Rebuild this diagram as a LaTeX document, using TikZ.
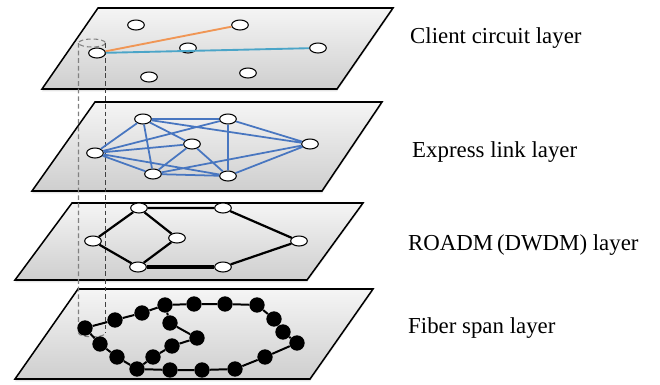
\documentclass[tikz,border=0pt]{standalone}
\usepackage{fontspec}
\setmainfont{Liberation Serif}
\usetikzlibrary{shapes.geometric}
\definecolor{Orange}{RGB}{240,150,85}
\definecolor{Cyan}{RGB}{75,165,200}
\definecolor{Steel}{RGB}{72,118,192}

\begin{document}
\begin{tikzpicture}[
  x=0.03cm, y=-0.03cm,
  plane/.style={draw=black, line width=1.3pt, top color=gray!8, bottom color=gray!38},
  shade/.style={fill=black!10, draw=none},
  site/.style={ellipse, draw=black, fill=white, line width=0.9pt, minimum width=0.5cm, minimum height=0.3cm, inner sep=0pt},
  span/.style={circle, fill=black, minimum size=0.46cm, inner sep=0pt},
  circuit/.style={line width=1.6pt},
  express/.style={Steel, line width=1.5pt},
  roadm/.style={black, line width=1.9pt},
  fiber/.style={black, line width=1.7pt},
  tube/.style={dash pattern=on 4pt off 2.5pt, line width=0.9pt},
  layername/.style={anchor=west, inner sep=0pt, font=\fontsize{19.5}{22}\selectfont}
]
  \useasboundingbox (0,0) rectangle (660,384);

  % layer planes, top to bottom
  \fill[shade, yshift=-2pt] (98,8) -- (393,8) -- (337,89) -- (42,89) -- cycle;
  \fill[shade, yshift=-2pt] (95,102) -- (382,102) -- (322,191) -- (32,191) -- cycle;
  \fill[shade, yshift=-2pt] (72,203) -- (363,203) -- (307,280) -- (15,280) -- cycle;
  \fill[shade, yshift=-2pt] (78,289) -- (373,289) -- (310,379) -- (15,379) -- cycle;
  \draw[plane] (98,8) -- (393,8) -- (337,89) -- (42,89) -- cycle;
  \draw[plane] (95,102) -- (382,102) -- (322,191) -- (32,191) -- cycle;
  \draw[plane] (72,203) -- (363,203) -- (307,280) -- (15,280) -- cycle;
  \draw[plane] (78,289) -- (373,289) -- (310,379) -- (15,379) -- cycle;

  % dashed tube through the layers
  \coordinate (tl) at (78.5,43);
  \coordinate (tr) at (105.5,43);
  \coordinate (bl) at (78.5,333);
  \coordinate (br) at (105.5,333);
  \draw[tube, black!50] (92,43) ellipse [x radius=13.5, y radius=4];
  \draw[tube, black!50] (tl) -- (bl) .. controls (78.5,338) and (105.5,338) .. (br);
  \draw[tube, black!75] (tr) -- (br);

  % client circuit layer
  \node[site] (c1) at (136,25) {};
  \node[site] (c2) at (240,25) {};
  \node[site] (c3) at (188,48) {};
  \node[site] (c4) at (97,53) {};
  \node[site] (c5) at (318,48) {};
  \node[site] (c6) at (149,77) {};
  \node[site] (c7) at (248,73) {};
  \draw[circuit, Orange] (c4) -- (c2);
  \draw[circuit, Cyan] (c4) -- (c5);

  % express link layer
  \node[site] (e1) at (143,119) {};
  \node[site] (e2) at (228,119) {};
  \node[site] (e3) at (192,144) {};
  \node[site] (e4) at (95,153) {};
  \node[site] (e5) at (310,144) {};
  \node[site] (e6) at (153,174) {};
  \node[site] (e7) at (228,176) {};
  \draw[express] (e1) -- (e2) (e1) -- (e4) (e1) -- (e6) (e1) -- (e3) (e1) -- (e5)
    (e2) -- (e4) (e2) -- (e7) (e2) -- (e5)
    (e4) -- (e3) (e4) -- (e7) (e4) -- (e6)
    (e3) -- (e6) (e3) -- (e7)
    (e6) -- (e7) (e6) -- (e5) (e7) -- (e5);

  % ROADM (DWDM) layer
  \node[site] (r1) at (139,208) {};
  \node[site] (r2) at (223,208) {};
  \node[site] (r3) at (93,241) {};
  \node[site] (r4) at (177,238) {};
  \node[site] (r5) at (299,241) {};
  \node[site] (r6) at (138,267) {};
  \node[site] (r7) at (223,267) {};
  \draw[roadm] (r1) -- (r2) -- (r5) -- (r7);
  \draw[roadm, line width=2.6pt] (r7) -- (r6);
  \draw[roadm] (r6) -- (r3) -- (r1) -- (r4) -- (r6);

  % fiber span layer
  \node[span] (f1) at (85,328) {};
  \node[span] (f2) at (115,320) {};
  \node[span] (f3) at (142,313) {};
  \node[span] (f4) at (165,305) {};
  \node[span] (f5) at (194,304) {};
  \node[span] (f6) at (225,304) {};
  \node[span] (f7) at (257,305) {};
  \node[span] (f8) at (274,319) {};
  \node[span] (f9) at (283,332) {};
  \node[span] (f10) at (297,343) {};
  \node[span] (f11) at (265,357) {};
  \node[span] (f12) at (235,369) {};
  \node[span] (f13) at (202,370) {};
  \node[span] (f14) at (170,370) {};
  \node[span] (f15) at (137,369) {};
  \node[span] (f16) at (117,357) {};
  \node[span] (f17) at (100,344) {};
  \node[span] (f18) at (170,323) {};
  \node[span] (f19) at (197,338) {};
  \node[span] (f20) at (172,346) {};
  \node[span] (f21) at (153,357) {};
  \draw[fiber] (f1) -- (f2) -- (f3) -- (f4) -- (f5) -- (f6) -- (f7) -- (f8) -- (f9)
    -- (f10) -- (f11) -- (f12) -- (f13) -- (f14) -- (f15) -- (f16) -- (f17) -- (f1);
  \draw[fiber] (f4) -- (f18) -- (f19) -- (f20) -- (f21) -- (f15);

  % layer names
  \node[layername] (lclient) at (410,38) {Client circuit layer};
  \node[layername] (lexpress) at (412,152) {Express link layer};
  \node[layername] (lroadm) at (408,245) {ROADM\,(DWDM) layer};
  \node[layername] (lfiber) at (408,328) {Fiber span layer};
\end{tikzpicture}
\end{document}
